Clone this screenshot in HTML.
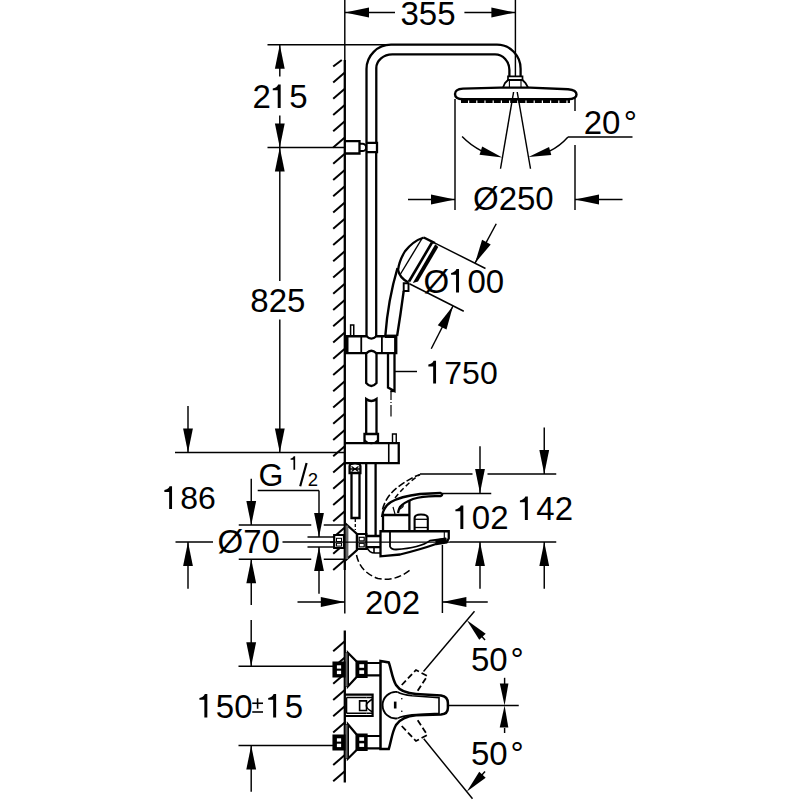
<!DOCTYPE html>
<html><head><meta charset="utf-8"><style>
html,body{margin:0;padding:0;background:#fff;}
svg{display:block;}
text{font-family:"Liberation Sans",sans-serif;fill:#000;stroke:none;}
</style></head><body>
<svg width="800" height="800" viewBox="0 0 800 800">
<rect width="800" height="800" fill="#fff"/>
<g stroke="#000" fill="none" stroke-linecap="butt">
<line x1="344.80" y1="0.00" x2="344.80" y2="62.00" stroke-width="1.45"/>
<line x1="344.80" y1="60.00" x2="344.80" y2="570.00" stroke-width="2.3"/>
<line x1="344.80" y1="570.00" x2="344.80" y2="613.50" stroke-width="1.45"/>
<line x1="344.80" y1="630.50" x2="344.80" y2="782.50" stroke-width="2.3"/>
<line x1="344.80" y1="72.50" x2="333.20" y2="82.50" stroke-width="2.0"/>
<line x1="344.80" y1="88.75" x2="333.20" y2="98.75" stroke-width="2.0"/>
<line x1="344.80" y1="105.00" x2="333.20" y2="115.00" stroke-width="2.0"/>
<line x1="344.80" y1="121.25" x2="333.20" y2="131.25" stroke-width="2.0"/>
<line x1="344.80" y1="137.50" x2="333.20" y2="147.50" stroke-width="2.0"/>
<line x1="344.80" y1="153.75" x2="333.20" y2="163.75" stroke-width="2.0"/>
<line x1="344.80" y1="170.00" x2="333.20" y2="180.00" stroke-width="2.0"/>
<line x1="344.80" y1="186.25" x2="333.20" y2="196.25" stroke-width="2.0"/>
<line x1="344.80" y1="202.50" x2="333.20" y2="212.50" stroke-width="2.0"/>
<line x1="344.80" y1="218.75" x2="333.20" y2="228.75" stroke-width="2.0"/>
<line x1="344.80" y1="235.00" x2="333.20" y2="245.00" stroke-width="2.0"/>
<line x1="344.80" y1="251.25" x2="333.20" y2="261.25" stroke-width="2.0"/>
<line x1="344.80" y1="267.50" x2="333.20" y2="277.50" stroke-width="2.0"/>
<line x1="344.80" y1="283.75" x2="333.20" y2="293.75" stroke-width="2.0"/>
<line x1="344.80" y1="300.00" x2="333.20" y2="310.00" stroke-width="2.0"/>
<line x1="344.80" y1="316.25" x2="333.20" y2="326.25" stroke-width="2.0"/>
<line x1="344.80" y1="332.50" x2="333.20" y2="342.50" stroke-width="2.0"/>
<line x1="344.80" y1="348.75" x2="333.20" y2="358.75" stroke-width="2.0"/>
<line x1="344.80" y1="365.00" x2="333.20" y2="375.00" stroke-width="2.0"/>
<line x1="344.80" y1="381.25" x2="333.20" y2="391.25" stroke-width="2.0"/>
<line x1="344.80" y1="397.50" x2="333.20" y2="407.50" stroke-width="2.0"/>
<line x1="344.80" y1="413.75" x2="333.20" y2="423.75" stroke-width="2.0"/>
<line x1="344.80" y1="430.00" x2="333.20" y2="440.00" stroke-width="2.0"/>
<line x1="344.80" y1="446.25" x2="333.20" y2="456.25" stroke-width="2.0"/>
<line x1="344.80" y1="462.50" x2="333.20" y2="472.50" stroke-width="2.0"/>
<line x1="344.80" y1="478.75" x2="333.20" y2="488.75" stroke-width="2.0"/>
<line x1="344.80" y1="495.00" x2="333.20" y2="505.00" stroke-width="2.0"/>
<line x1="344.80" y1="511.25" x2="333.20" y2="521.25" stroke-width="2.0"/>
<line x1="344.80" y1="527.50" x2="333.20" y2="537.50" stroke-width="2.0"/>
<line x1="344.80" y1="543.75" x2="333.20" y2="553.75" stroke-width="2.0"/>
<line x1="344.80" y1="560.00" x2="333.20" y2="570.00" stroke-width="2.0"/>
<line x1="341.80" y1="60.00" x2="333.20" y2="66.50" stroke-width="2.0"/>
<line x1="344.80" y1="641.25" x2="333.20" y2="651.25" stroke-width="2.0"/>
<line x1="344.80" y1="657.50" x2="333.20" y2="667.50" stroke-width="2.0"/>
<line x1="344.80" y1="673.75" x2="333.20" y2="683.75" stroke-width="2.0"/>
<line x1="344.80" y1="690.00" x2="333.20" y2="700.00" stroke-width="2.0"/>
<line x1="344.80" y1="706.25" x2="333.20" y2="716.25" stroke-width="2.0"/>
<line x1="344.80" y1="722.50" x2="333.20" y2="732.50" stroke-width="2.0"/>
<line x1="344.80" y1="738.75" x2="333.20" y2="748.75" stroke-width="2.0"/>
<line x1="344.80" y1="755.00" x2="333.20" y2="765.00" stroke-width="2.0"/>
<line x1="344.80" y1="771.25" x2="333.20" y2="781.25" stroke-width="2.0"/>
<line x1="515.40" y1="0.00" x2="515.40" y2="76.00" stroke-width="1.45"/>
<line x1="345.00" y1="12.50" x2="395.00" y2="12.50" stroke-width="1.45"/>
<polygon points="345.00,12.50 369.00,7.60 369.00,17.40" fill="#000" stroke="none"/>
<line x1="464.40" y1="12.50" x2="515.40" y2="12.50" stroke-width="1.45"/>
<polygon points="515.40,12.50 491.40,17.40 491.40,7.60" fill="#000" stroke="none"/>
<text x="400.50" y="24.50" font-size="33" text-anchor="start" >355</text>
<line x1="267.50" y1="44.70" x2="386.00" y2="44.70" stroke-width="1.45"/>
<line x1="267.50" y1="147.50" x2="344.80" y2="147.50" stroke-width="1.45"/>
<line x1="175.00" y1="452.50" x2="344.80" y2="452.50" stroke-width="1.45"/>
<line x1="279.80" y1="44.70" x2="279.80" y2="76.50" stroke-width="1.45"/>
<polygon points="279.80,44.70 284.70,68.70 274.90,68.70" fill="#000" stroke="none"/>
<line x1="279.80" y1="115.50" x2="279.80" y2="147.50" stroke-width="1.45"/>
<polygon points="279.80,147.50 274.90,123.50 284.70,123.50" fill="#000" stroke="none"/>
<line x1="279.80" y1="147.50" x2="279.80" y2="281.00" stroke-width="1.45"/>
<polygon points="279.80,147.50 284.70,171.50 274.90,171.50" fill="#000" stroke="none"/>
<line x1="279.80" y1="319.50" x2="279.80" y2="452.50" stroke-width="1.45"/>
<polygon points="279.80,452.50 274.90,428.50 284.70,428.50" fill="#000" stroke="none"/>
<text x="252.50" y="108.00" font-size="33">2</text>
<path d="M280.68,108.00 L280.68,84.60 L278.17,84.60 C277.45,86.72 275.14,88.20 272.76,88.46 L272.76,90.34 L277.71,90.34 L277.71,108.00 Z" fill="#000" stroke="none"/>
<text x="289.20" y="108.00" font-size="33">5</text>
<text x="250.30" y="312.00" font-size="33" text-anchor="start" >825</text>
<line x1="188.00" y1="406.00" x2="188.00" y2="452.50" stroke-width="1.45"/>
<polygon points="188.00,452.50 183.10,428.50 192.90,428.50" fill="#000" stroke="none"/>
<line x1="188.00" y1="542.00" x2="188.00" y2="588.75" stroke-width="1.45"/>
<polygon points="188.00,542.00 192.90,566.00 183.10,566.00" fill="#000" stroke="none"/>
<line x1="175.50" y1="542.00" x2="213.00" y2="542.00" stroke-width="1.45"/>
<line x1="282.50" y1="542.00" x2="336.00" y2="542.00" stroke-width="1.45"/>
<path d="M172.04,509.00 L172.04,486.31 L169.60,486.31 C168.90,488.36 166.66,489.80 164.36,490.06 L164.36,491.88 L169.16,491.88 L169.16,509.00 Z" fill="#000" stroke="none"/>
<text x="180.29" y="509.00" font-size="32">86</text>
<line x1="238.75" y1="525.00" x2="311.25" y2="525.00" stroke-width="1.45"/>
<line x1="323.75" y1="525.00" x2="344.80" y2="525.00" stroke-width="1.45"/>
<line x1="238.75" y1="559.25" x2="311.25" y2="559.25" stroke-width="1.45"/>
<line x1="323.75" y1="559.25" x2="344.80" y2="559.25" stroke-width="1.45"/>
<line x1="251.25" y1="478.70" x2="251.25" y2="525.00" stroke-width="1.45"/>
<polygon points="251.25,525.00 246.35,501.00 256.15,501.00" fill="#000" stroke="none"/>
<line x1="251.25" y1="559.25" x2="251.25" y2="605.00" stroke-width="1.45"/>
<polygon points="251.25,559.25 256.15,583.25 246.35,583.25" fill="#000" stroke="none"/>
<text x="217.50" y="553.00" font-size="33" text-anchor="start" >Ø70</text>
<line x1="257.70" y1="490.40" x2="319.00" y2="490.40" stroke-width="1.45"/>
<line x1="319.00" y1="490.40" x2="319.00" y2="537.00" stroke-width="1.45"/>
<polygon points="319.00,537.00 314.10,513.00 323.90,513.00" fill="#000" stroke="none"/>
<line x1="319.00" y1="547.00" x2="319.00" y2="593.75" stroke-width="1.45"/>
<polygon points="319.00,547.00 323.90,571.00 314.10,571.00" fill="#000" stroke="none"/>
<line x1="307.50" y1="537.00" x2="336.00" y2="537.00" stroke-width="1.45"/>
<line x1="307.50" y1="547.00" x2="336.00" y2="547.00" stroke-width="1.45"/>
<text x="258.50" y="485.50" font-size="32" text-anchor="start" >G</text>
<path d="M295.16,469.80 L295.16,456.33 L293.72,456.33 C293.30,457.55 291.97,458.40 290.60,458.55 L290.60,459.63 L293.45,459.63 L293.45,469.80 Z" fill="#000" stroke="none"/>
<line x1="300.20" y1="486.20" x2="306.60" y2="463.00" stroke-width="2.2"/>
<text x="307.80" y="485.80" font-size="18.5" text-anchor="start" >2</text>
<line x1="297.50" y1="602.00" x2="344.80" y2="602.00" stroke-width="1.45"/>
<polygon points="344.80,602.00 320.80,606.90 320.80,597.10" fill="#000" stroke="none"/>
<line x1="442.40" y1="602.00" x2="487.75" y2="602.00" stroke-width="1.45"/>
<polygon points="442.40,602.00 466.40,597.10 466.40,606.90" fill="#000" stroke="none"/>
<line x1="442.40" y1="545.00" x2="442.40" y2="613.00" stroke-width="1.45"/>
<text x="365.00" y="613.50" font-size="33" text-anchor="start" >202</text>
<line x1="420.00" y1="474.00" x2="472.50" y2="474.00" stroke-width="1.45"/>
<line x1="487.50" y1="474.00" x2="556.25" y2="474.00" stroke-width="1.45"/>
<line x1="440.50" y1="493.50" x2="491.25" y2="493.50" stroke-width="1.45"/>
<line x1="450.00" y1="542.00" x2="556.25" y2="542.00" stroke-width="1.45"/>
<line x1="480.00" y1="446.25" x2="480.00" y2="493.00" stroke-width="1.45"/>
<polygon points="480.00,493.00 475.10,469.00 484.90,469.00" fill="#000" stroke="none"/>
<line x1="480.00" y1="542.00" x2="480.00" y2="588.75" stroke-width="1.45"/>
<polygon points="480.00,542.00 484.90,566.00 475.10,566.00" fill="#000" stroke="none"/>
<line x1="544.25" y1="427.50" x2="544.25" y2="474.00" stroke-width="1.45"/>
<polygon points="544.25,474.00 539.35,450.00 549.15,450.00" fill="#000" stroke="none"/>
<line x1="544.25" y1="542.00" x2="544.25" y2="588.75" stroke-width="1.45"/>
<polygon points="544.25,542.00 549.15,566.00 539.35,566.00" fill="#000" stroke="none"/>
<path d="M463.33,529.00 L463.33,505.60 L460.83,505.60 C460.10,507.71 457.79,509.20 455.41,509.46 L455.41,511.35 L460.36,511.35 L460.36,529.00 Z" fill="#000" stroke="none"/>
<text x="471.85" y="529.00" font-size="33">02</text>
<path d="M527.83,520.00 L527.83,496.60 L525.33,496.60 C524.60,498.71 522.29,500.20 519.91,500.46 L519.91,502.35 L524.86,502.35 L524.86,520.00 Z" fill="#000" stroke="none"/>
<text x="536.35" y="520.00" font-size="33">42</text>
<line x1="455.00" y1="99.00" x2="455.00" y2="210.00" stroke-width="1.45"/>
<line x1="575.00" y1="98.00" x2="575.00" y2="111.00" stroke-width="1.45"/>
<line x1="575.00" y1="145.00" x2="575.00" y2="210.00" stroke-width="1.45"/>
<line x1="408.00" y1="199.50" x2="455.00" y2="199.50" stroke-width="1.45"/>
<polygon points="455.00,199.50 431.00,204.40 431.00,194.60" fill="#000" stroke="none"/>
<line x1="575.00" y1="199.50" x2="622.50" y2="199.50" stroke-width="1.45"/>
<polygon points="575.00,199.50 599.00,194.60 599.00,204.40" fill="#000" stroke="none"/>
<text x="473.00" y="210.00" font-size="33" text-anchor="start" >Ø250</text>
<line x1="513.60" y1="92.00" x2="500.50" y2="168.75" stroke-width="1.45"/>
<line x1="517.20" y1="92.00" x2="530.50" y2="168.75" stroke-width="1.45"/>
<path d="M462.1,136.6 Q471,145.8 481.5,150.8" stroke-width="1.45" fill="none" />
<polygon points="502.25,157.60 479.53,154.71 482.20,146.53" fill="#000" stroke="none"/>
<path d="M568,137 Q560,146 549.5,151.2" stroke-width="1.45" fill="none" />
<polygon points="528.50,157.00 549.07,147.00 551.27,154.90" fill="#000" stroke="none"/>
<line x1="568.00" y1="137.00" x2="632.50" y2="137.00" stroke-width="1.45"/>
<text x="583.70" y="134.00" font-size="33" text-anchor="start" >20</text>
<text x="623.75" y="134.00" font-size="33" text-anchor="start" >°</text>
<path d="M366.5,336 L366.5,69 A24.5,24.4 0 0 1 391,44.7 L497,44.7 A23.6,24 0 0 1 520.6,68.7 L520.6,76.3" stroke-width="2.3" fill="none" />
<path d="M376.3,142.8 L376.3,68 A16,13.7 0 0 1 392.3,54.4 L495,54.4 A14.4,15.6 0 0 1 509.4,70 L509.4,76.3" stroke-width="2.3" fill="none" />
<path d="M344.8,141.2 L359.5,141.2 L359.5,153.5 L344.8,153.5" stroke-width="2.3" fill="none" />
<path d="M359.5,143.8 L362.5,143.8 A3.6,3.6 0 0 1 362.5,151 L359.5,151" stroke-width="2.0" fill="none" />
<path d="M366.5,142.8 L377,142.8 L377,152.2 L366.5,152.2" stroke-width="2.3" fill="none" />
<path d="M376.2,152.2 L376.2,336" stroke-width="2.3" fill="none" />
<path d="M508,80 L508,76.3 L522.5,76.3 L522.5,80 Z" stroke-width="1.7" fill="none" />
<path d="M503,87.5 L505,83 L508,80 L522.5,80 L525.5,83 L528,87.5" stroke-width="1.8" fill="none" />
<path d="M509.4,80 L509.4,87.5 M521,80 L521,87.5" stroke-width="1.1" fill="none" />
<path d="M455,94 Q455,89 463,88.6 L500,87.6 L530,87.6 L568,89.2 Q576.5,90 576.5,94.5 Q576.5,99 568,99.2 L463,99.2 Q455,99 455,94 Z" stroke-width="2.4" fill="none" />
<path d="M461,101.3 L570,101.3" stroke-width="3.6" fill="none" stroke-dasharray="7,1.2"/>
<path d="M423.75,237.5 Q413,241 405,251.25 Q399,261 398.1,270 Q399.5,278 408.5,282.5" stroke-width="2.3" fill="none" />
<path d="M422,238.5 L400.5,274" stroke-width="1.4" fill="none" />
<path d="M423.75,237.5 L435,243.1" stroke-width="2.3" fill="none" />
<path d="M432,242.5 L409,281.5" stroke-width="2.6" fill="none" />
<polygon points="435.3,244.2 438.3,247 418,281.5 412.8,283" fill="#000" stroke="none"/>
<line x1="435.00" y1="243.10" x2="485.50" y2="268.50" stroke-width="1.45"/>
<line x1="409.40" y1="283.75" x2="463.75" y2="311.25" stroke-width="1.45"/>
<line x1="496.25" y1="223.75" x2="475.00" y2="263.20" stroke-width="1.45"/>
<polygon points="475.00,263.20 482.08,239.75 490.71,244.40" fill="#000" stroke="none"/>
<line x1="431.25" y1="348.75" x2="453.00" y2="306.00" stroke-width="1.45"/>
<polygon points="453.00,306.00 446.48,329.61 437.75,325.17" fill="#000" stroke="none"/>
<path d="M397.5,268 Q388,300 385.3,336" stroke-width="2.4" fill="none" />
<path d="M403.7,283.3 L408.5,283.3 L408.5,291 L403.7,291 Z" stroke-width="1.9" fill="none" />
<path d="M403.7,291 Q400.5,315 397.1,336" stroke-width="2.4" fill="none" />
<text x="423.50" y="292.50" font-size="33">Ø</text>
<path d="M459.01,292.50 L459.01,269.10 L456.50,269.10 C455.77,271.21 453.46,272.70 451.09,272.96 L451.09,274.85 L456.04,274.85 L456.04,292.50 Z" fill="#000" stroke="none"/>
<text x="467.52" y="292.50" font-size="33">00</text>
<path d="M344.8,336.25 L366.5,336.25 Q371.3,341 376.3,336.25 L396.25,336.25 L396.25,353.1 L376.3,353.1 Q371.3,348.5 366.5,353.1 L344.8,353.1" stroke-width="2.3" fill="none" />
<line x1="361.25" y1="336.25" x2="361.25" y2="353.10" stroke-width="1.8"/>
<line x1="381.90" y1="336.25" x2="381.90" y2="353.10" stroke-width="1.8"/>
<rect x="345" y="336.5" width="3.5" height="16.5" fill="#000" stroke="none"/>
<path d="M350.6,336 L350.6,325 L353.75,325 L353.75,336" stroke-width="1.5" fill="none" />
<path d="M385,336.3 L396.5,336.3" stroke-width="3.4" fill="none" />
<line x1="395.50" y1="336.00" x2="395.50" y2="353.00" stroke-width="2.8"/>
<path d="M366.2,353.1 L366.2,383 Q371.3,389 376.5,383 L376.5,353.1" stroke-width="2.3" fill="none" />
<path d="M388,353.1 L388,387.5 L394.5,391 L394.5,353.1" stroke-width="2.3" fill="none" />
<path d="M390.5,391 L394.5,391" stroke-width="2.3" fill="none" />
<path d="M391,391 L391,400 M391,402 L391,403 M391,405 L391,416.5" stroke-width="1.2" fill="none" />
<line x1="394.50" y1="371.50" x2="417.00" y2="371.50" stroke-width="1.45"/>
<path d="M436.04,383.50 L436.04,360.81 L433.60,360.81 C432.90,362.86 430.66,364.30 428.36,364.56 L428.36,366.38 L433.16,366.38 L433.16,383.50 Z" fill="#000" stroke="none"/>
<text x="444.29" y="383.50" font-size="32">750</text>
<path d="M366.2,434 L366.2,399 Q371.3,403 376.5,399 L376.5,434" stroke-width="2.3" fill="none" />
<path d="M364.5,443 L364.5,434 L378,434 L378,443" stroke-width="2.3" fill="none" />
<path d="M364.5,440 Q371.3,447 378,440" stroke-width="1.5" fill="none" />
<path d="M344.8,443.1 L398.75,443.1 L398.75,463.1 L344.8,463.1" stroke-width="2.3" fill="none" />
<line x1="388.75" y1="443.10" x2="388.75" y2="463.10" stroke-width="1.6"/>
<path d="M392.5,443 L392.5,434 L396.25,434 L396.25,443" stroke-width="1.4" fill="none" />
<path d="M349.6,473 L349.6,466 Q349.6,463.3 355,463.3 Q360.4,463.3 360.4,466 L360.4,473 Z" stroke-width="2.3" fill="#fff" />
<path d="M351.5,466.5 L358.5,471.5 M358.5,466.5 L351.5,471.5 M349.6,469 L360.4,469" stroke-width="1.3" fill="none" />
<path d="M351.5,473.75 L351.5,518 L359.5,518 L359.5,473.75" stroke-width="2.3" fill="none" />
<path d="M355.3,519 L355.3,530" stroke-width="1.3" fill="none" stroke-dasharray="3,2"/>
<path d="M366.2,463.1 L366.2,536 M375.6,463.1 L375.6,536" stroke-width="2.3" fill="none" />
<path d="M347,525 L357,534 L357,550 L347,559 Z" stroke-width="2.3" fill="none" />
<rect x="345.6" y="525.5" width="2.6" height="33.5" fill="#666" stroke="none"/>
<path d="M334.2,535 L344,535 L344,548 L334.2,548 Z" stroke-width="2.2" fill="#fff" />
<rect x="336.5" y="538.3" width="5" height="3.2" fill="#fff" stroke="#000" stroke-width="1"/>
<rect x="336.5" y="543.3" width="5" height="2.8" fill="#fff" stroke="#000" stroke-width="1"/>
<path d="M357,534 L366.3,534 L366.3,549 L357,549 Z" stroke-width="2.2" fill="none" />
<rect x="359.2" y="537.3" width="5" height="3.6" fill="#fff" stroke="#000" stroke-width="1.2"/>
<rect x="359.2" y="543.3" width="5" height="3.6" fill="#fff" stroke="#000" stroke-width="1.2"/>
<path d="M366.3,536 L380,536 M366.3,547.2 L380,547.2" stroke-width="2.3" fill="none" />
<path d="M367,547.5 Q369,553 375,553 L380,553 M374,547.5 L374,553" stroke-width="1.6" fill="none" />
<path d="M380.5,531.25 L448.75,531.25 L448.75,538.4 L446.5,542.5 L436,544 Q420,549.6 400,554.5 L380.5,556.3 Z" stroke-width="2.3" fill="none" />
<path d="M390,531.5 L390,546.5 Q391,549.5 396,549.5 Q420,548 430,540.6 L446,538.5" stroke-width="1.8" fill="none" />
<polygon points="435,539.5 446.5,537.8 447,542.8 436,544.2" fill="#000" stroke="none"/>
<path d="M444.3,531.5 L444.3,538" stroke-width="1.1" fill="none" />
<path d="M383,531.25 L383,515 L408.5,515 M409.4,501 L409.4,531.25" stroke-width="2.3" fill="none" />
<path d="M414.6,531 L414.6,518 Q414.6,514.5 421,514.5 Q427.8,514.5 427.8,518 L427.8,531" stroke-width="2.1" fill="none" />
<line x1="414.60" y1="519.30" x2="427.80" y2="519.30" stroke-width="1.3"/>
<line x1="414.60" y1="527.50" x2="427.80" y2="527.50" stroke-width="1.3"/>
<path d="M382,517 Q383,507 391,502 Q400,496.6 420,494 L440.5,493 Q444,494.5 440.5,496.2 Q424,495.5 413,499 Q403,503 400,507 Q398.5,510 398,513" stroke-width="2.3" fill="none" />
<path d="M393,507 L395,514 M400,509 Q404,507 403,505" stroke-width="1.2" fill="none" />
<path d="M382.5,509.5 Q386,496 398,487 Q410,478 420,474.5" stroke-width="1.6" fill="none" stroke-dasharray="7,2.5"/>
<path d="M395,498 Q406,484 420,474.5" stroke-width="1.5" fill="none" stroke-dasharray="5,3"/>
<path d="M356.5,555 Q360,572 378,578.5 Q395,582 410,570" stroke-width="1.5" fill="none" stroke-dasharray="7,3"/>
<line x1="330.00" y1="542.10" x2="450.00" y2="542.10" stroke-width="1.45"/>
<path d="M347.9,652.75 L356.8,661.7 L356.8,676.8 L347.9,686.5 Z" stroke-width="2.2" fill="none" />
<rect x="345.1" y="652.75" width="2.8" height="33.75" fill="#666" stroke="#000" stroke-width="0.6"/>
<path d="M333.6,662.7 L344.4,662.7 L344.4,676.4 L333.6,676.4 Z" stroke-width="2.3" fill="#000" />
<rect x="336.9" y="665.3" width="4.2" height="3.3" fill="#fff" stroke="none"/>
<rect x="336.9" y="670.7" width="4.2" height="3.4" fill="#fff" stroke="none"/>
<path d="M356.8,661.7 L366.5,661.7 L366.5,676.8 L356.8,676.8 Z" stroke-width="2.3" fill="#000" />
<rect x="359.3" y="664.2" width="4.8" height="3.6" fill="#fff" stroke="none"/>
<rect x="359.3" y="670.3" width="4.8" height="3.6" fill="#fff" stroke="none"/>
<path d="M366.5,663.0 L380.2,663.0 M366.5,675.4 L380.2,675.4" stroke-width="2.2" fill="none" />
<path d="M347.9,724.3 L356.8,734.7 L356.8,749.8 L347.9,758.7 Z" stroke-width="2.2" fill="none" />
<rect x="345.1" y="724.3" width="2.8" height="34.40000000000009" fill="#666" stroke="#000" stroke-width="0.6"/>
<path d="M333.6,735.7 L344.4,735.7 L344.4,749.4 L333.6,749.4 Z" stroke-width="2.3" fill="#000" />
<rect x="336.9" y="738.3" width="4.2" height="3.3" fill="#fff" stroke="none"/>
<rect x="336.9" y="743.7" width="4.2" height="3.4" fill="#fff" stroke="none"/>
<path d="M356.8,734.7 L366.5,734.7 L366.5,749.8 L356.8,749.8 Z" stroke-width="2.3" fill="#000" />
<rect x="359.3" y="737.2" width="4.8" height="3.6" fill="#fff" stroke="none"/>
<rect x="359.3" y="743.3" width="4.8" height="3.6" fill="#fff" stroke="none"/>
<path d="M366.5,736.0 L380.2,736.0 M366.5,748.4 L380.2,748.4" stroke-width="2.2" fill="none" />
<line x1="238.50" y1="666.25" x2="333.60" y2="666.25" stroke-width="1.45"/>
<line x1="238.50" y1="745.50" x2="333.60" y2="745.50" stroke-width="1.45"/>
<path d="M344.4,694.7 L372.6,694.7 L372.6,716 L344.4,716" stroke-width="2.2" fill="none" />
<path d="M346.5,697.5 L366.5,697.5 M346.5,713.3 L366.5,713.3 M346.5,697.5 L346.5,713.3" stroke-width="1.6" fill="none" />
<path d="M359.6,700.9 L366.5,700.9 L366.5,710.5 L359.6,710.5 Z" stroke-width="1.6" fill="none" />
<path d="M366.5,697.5 L372.6,697.5 M366.5,713.3 L372.6,713.3" stroke-width="1.4" fill="none" />
<path d="M372.6,699 Q366,703 366.5,705.5 Q366,708.5 372.6,712" stroke-width="1.6" fill="none" />
<path d="M380.5,661 L388.75,662.4 C391,668 392,678 396,685 C400,691 408,693.5 416,694 L441,695.4 Q447.9,696.5 447.9,703 L447.9,708 Q447.9,714 441,714.6 L416,715.3 C408,716 400,719 396,725 C392,732 391,742 388.75,749 L380.5,749 Z" stroke-width="2.5" fill="none" />
<path d="M397.5,692 A13.3,13.3 0 1 0 397.5,718.4" stroke-width="1.9" fill="none" />
<path d="M397.5,692 Q402,694.7 412,695.8 L439,697.8 L439,713.3 L412,714.9 Q402,716 397.5,718.4" stroke-width="1.6" fill="none" />
<path d="M395.2,701.6 L395.2,708.5" stroke-width="2.6" fill="none" />
<circle cx="401.8" cy="698.8" r="0.8" fill="#000" stroke="none"/>
<circle cx="401.8" cy="711.2" r="0.8" fill="#000" stroke="none"/>
<path d="M401.75,685 L416,670 L427.25,676 L417.5,691" stroke-width="1.8" fill="none" stroke-dasharray="6,3"/>
<path d="M401.75,726 L416,741 L427.25,735 L417.5,720" stroke-width="1.8" fill="none" stroke-dasharray="6,3"/>
<line x1="423.50" y1="671.50" x2="474.50" y2="611.25" stroke-width="1.45"/>
<line x1="423.75" y1="738.75" x2="472.50" y2="798.75" stroke-width="1.45"/>
<line x1="447.90" y1="705.50" x2="518.75" y2="705.50" stroke-width="1.45"/>
<polygon points="466.90,620.20 485.68,633.86 479.25,639.86" fill="#000" stroke="none"/>
<line x1="481.00" y1="635.50" x2="485.00" y2="640.00" stroke-width="1.45"/>
<polygon points="466.90,791.50 479.25,771.84 485.68,777.84" fill="#000" stroke="none"/>
<line x1="481.00" y1="776.00" x2="485.00" y2="771.50" stroke-width="1.45"/>
<polygon points="504.60,705.50 499.82,683.60 508.42,683.41" fill="#000" stroke="none"/>
<polygon points="504.60,705.50 508.32,727.61 499.73,727.38" fill="#000" stroke="none"/>
<line x1="504.60" y1="677.80" x2="504.60" y2="684.00" stroke-width="1.45"/>
<line x1="504.60" y1="728.00" x2="504.60" y2="733.00" stroke-width="1.45"/>
<text x="471.00" y="670.50" font-size="33" text-anchor="start" >50</text>
<text x="510.50" y="670.50" font-size="33" text-anchor="start" >°</text>
<text x="471.00" y="765.00" font-size="33" text-anchor="start" >50</text>
<text x="510.50" y="765.00" font-size="33" text-anchor="start" >°</text>
<line x1="251.20" y1="619.90" x2="251.20" y2="666.25" stroke-width="1.45"/>
<polygon points="251.20,666.25 246.30,642.25 256.10,642.25" fill="#000" stroke="none"/>
<line x1="251.20" y1="745.50" x2="251.20" y2="791.75" stroke-width="1.45"/>
<polygon points="251.20,745.50 256.10,769.50 246.30,769.50" fill="#000" stroke="none"/>
<path d="M207.33,717.50 L207.33,694.10 L204.83,694.10 C204.10,696.22 201.79,697.70 199.41,697.96 L199.41,699.85 L204.36,699.85 L204.36,717.50 Z" fill="#000" stroke="none"/>
<text x="215.85" y="717.50" font-size="33">50</text>
<line x1="252.25" y1="703.25" x2="263.00" y2="703.25" stroke-width="1.6"/>
<line x1="257.60" y1="698.25" x2="257.60" y2="708.75" stroke-width="1.6"/>
<line x1="252.25" y1="712.00" x2="263.00" y2="712.00" stroke-width="1.6"/>
<path d="M276.13,717.50 L276.13,694.10 L273.63,694.10 C272.90,696.22 270.59,697.70 268.21,697.96 L268.21,699.85 L273.16,699.85 L273.16,717.50 Z" fill="#000" stroke="none"/>
<text x="284.65" y="717.50" font-size="33">5</text>
</g>
</svg>
</body></html>
